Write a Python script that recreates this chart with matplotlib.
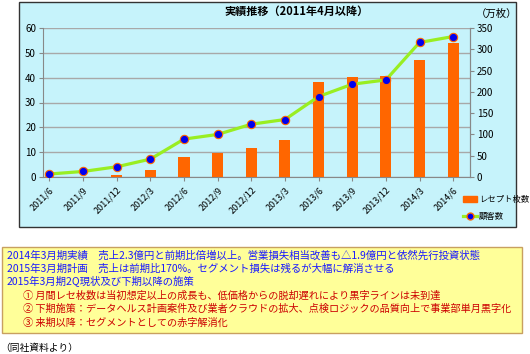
import matplotlib
matplotlib.use("Agg")
import matplotlib.pyplot as plt
from matplotlib.patches import Rectangle
from matplotlib.lines import Line2D

plt.rcParams["font.family"] = ["Noto Sans CJK JP", "DejaVu Sans"]

W, H = 530, 354

# データ
periods = ["2011/6", "2011/9", "2011/12", "2012/3", "2012/6", "2012/9", "2012/12",
           "2013/3", "2013/6", "2013/9", "2013/12", "2014/3", "2014/6"]
receipts = [0.1, 0.2, 0.8, 3.0, 8.0, 9.5, 11.5, 14.7, 38.3, 40.3, 40.8, 47.3, 53.8]   # 左軸
customers = [7, 13, 24, 42, 89, 100, 124, 135, 189, 218, 228, 316, 330]              # 右軸（万枚）

notes_blue = [
    "2014年3月期実績　売上2.3億円と前期比倍増以上。営業損失相当改善も△1.9億円と依然先行投資状態",
    "2015年3月期計画　売上は前期比170%。セグメント損失は残るが大幅に解消させる",
    "2015年3月期2Q現状及び下期以降の施策",
]
notes_red = [
    "① 月間レセ枚数は当初想定以上の成長も、低価格からの脱却遅れにより黒字ラインは未到達",
    "② 下期施策：データヘルス計画案件及び業者クラウドの拡大、点検ロジックの品質向上で事業部単月黒字化",
    "③ 来期以降：セグメントとしての赤字解消化",
]

BG = "#c6f3fb"
ORANGE = "#ff6600"
GREEN = "#99ee22"


def px(x, y, w, h):
    # ピクセル座標 (左上基準) -> figure座標
    return [x / W, 1 - (y + h) / H, w / W, h / H]


fig = plt.figure(figsize=(W / 100, H / 100), dpi=100)

# グラフ枠
fig.patches.append(Rectangle((19 / W, 1 - 227 / H), 497 / W, 225 / H,
                             transform=fig.transFigure, facecolor=BG,
                             edgecolor="#333333", linewidth=1.0, zorder=-5))

ax = fig.add_axes(px(43, 28, 427, 149))
ax.set_facecolor(BG)
x = list(range(len(periods)))
ax.bar(x, receipts, width=0.33, color=ORANGE, zorder=3, label="レセプト枚数")
ax.set_xlim(-0.19, 12.5)
ax.set_ylim(0, 60)
ax.set_yticks(range(0, 61, 10))
ax.yaxis.grid(True, color="#a8a8a8", linewidth=1.0, zorder=0)
ax.set_axisbelow(True)
ax.set_xticks(x)
ax.set_xticklabels(periods, rotation=45, ha="right", va="top",
                   rotation_mode="anchor", fontsize=6.5)
ax.tick_params(axis="y", labelsize=7, length=3, color="#888888", pad=2)
ax.tick_params(axis="x", length=3, color="#888888", pad=3)
ax.spines["top"].set_visible(False)
for s in ["left", "bottom", "right"]:
    ax.spines[s].set_color("#888888")

ax2 = ax.twinx()
ax2.plot(x, customers, color=GREEN, linewidth=2.3, marker="o", markersize=6,
         markerfacecolor="#0000ee", markeredgecolor=ORANGE, markeredgewidth=0.8,
         zorder=5, label="顧客数")
ax2.set_ylim(0, 350)
ax2.set_yticks(range(0, 351, 50))
ax2.tick_params(axis="y", labelsize=7, length=3, color="#888888", pad=2)
ax2.spines["top"].set_visible(False)
ax2.spines["right"].set_color("#888888")
ax2.spines["left"].set_visible(False)
ax2.spines["bottom"].set_visible(False)

fig.text(297 / W, 1 - 11 / H, "実績推移（2011年4月以降）", ha="center", va="center",
         fontsize=8, fontweight="bold")
fig.text(497 / W, 1 - 14 / H, "（万枚）", ha="center", va="center", fontsize=7.5)

handles = [Rectangle((0, 0), 1, 1, color=ORANGE),
           Line2D([], [], color=GREEN, linewidth=2.3, marker="o", markersize=5,
                  markerfacecolor="#0000ee", markeredgecolor=ORANGE)]
fig.legend(handles, ["レセプト枚数", "顧客数"], loc="center left",
           bbox_to_anchor=(459 / W, 1 - 208 / H), frameon=False, fontsize=6,
           handlelength=1.7, handletextpad=0.2, labelspacing=0.9, borderpad=0)

# 下の説明ボックス
fig.patches.append(Rectangle((2 / W, 1 - 333 / H), 520 / W, 86 / H,
                             transform=fig.transFigure, facecolor="#ffff99",
                             edgecolor="#c8a060", linewidth=1.0, zorder=-5))
line_y = [255, 268.5, 282, 295.5, 309, 322.5]
for i, t in enumerate(notes_blue):
    fig.text(7 / W, 1 - line_y[i] / H, t, ha="left", va="center",
             fontsize=7.5, color="#1a1aff")
for i, t in enumerate(notes_red):
    fig.text(23 / W, 1 - line_y[i + 3] / H, t, ha="left", va="center",
             fontsize=7.3, color="#cc0000")

fig.text(0 / W, 1 - 348 / H, "（同社資料より）", ha="left", va="center", fontsize=7)

fig.savefig("out.png", dpi=100)
